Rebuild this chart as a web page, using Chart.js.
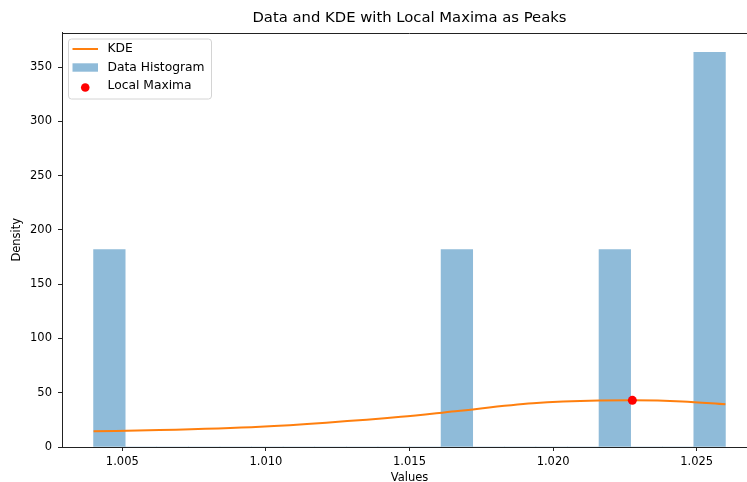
<!DOCTYPE html>
<html>
<head>
<meta charset="utf-8">
<script src="https://cdn.jsdelivr.net/npm/chart.js@4/dist/chart.umd.min.js"></script>
<style>
  html, body { margin: 0; padding: 0; background: #fff; overflow: hidden; }
  #wrap { width: 747px; height: 482px; overflow: hidden; position: relative; }
  canvas { display: block; }
</style>
</head>
<body>
<div id="wrap"><canvas id="c" width="800" height="490"></canvas></div>
<script>
// Histogram: 20 bins of width 0.0011 spanning 1.004 .. 1.026 (density-normalised)
const binCenters = [
  1.00455, 1.00565, 1.00675, 1.00785, 1.00895,
  1.01005, 1.01115, 1.01225, 1.01335, 1.01445,
  1.01555, 1.01665, 1.01775, 1.01885, 1.01995,
  1.02105, 1.02215, 1.02325, 1.02435, 1.02545
];
const binDensity = [
  181.8, 0, 0, 0, 0,
  0, 0, 0, 0, 0,
  0, 181.8, 0, 0, 0,
  0, 181.8, 0, 0, 363.6
];

// Kernel density estimate curve
const kdeX = [1.0040, 1.0063, 1.0098, 1.0121, 1.0147, 1.0166, 1.0193, 1.0216, 1.02276, 1.0245, 1.0260];
const kdeY = [14.4,   15.6,   18.7,   22.4,   27.8,   33.0,   40.3,   42.8,   43.0,    42.0,   39.3];

// Local maxima of the KDE
const peakX = [1.02276];
const peakY = [43.0];

// Axis ticks
const xTicks = [1.005, 1.010, 1.015, 1.020, 1.025];
const yTicks = [0, 50, 100, 150, 200, 250, 300, 350];

const TITLE = 'Data and KDE with Local Maxima as Peaks';
const FONT = 'DejaVu Sans';
Chart.defaults.font.family = FONT;
Chart.defaults.color = '#000';

const AXIS_COLOR = '#222';
const LABEL_SIZE = 11.5;
const LEGEND_SIZE = 12.3;

// Draws the title over the axes, the top spine and a legend inside the plot area
const frameAndLegend = {
  id: 'frameAndLegend',
  afterDraw(chart) {
    const { ctx, chartArea: a } = chart;
    const ds = chart.data.datasets;
    ctx.save();

    ctx.fillStyle = '#000';
    ctx.font = '14.8px "' + FONT + '"';
    ctx.textAlign = 'center';
    ctx.textBaseline = 'middle';
    ctx.fillText(TITLE, (a.left + a.right) / 2, 18);

    ctx.strokeStyle = AXIS_COLOR;
    ctx.lineWidth = 1;
    ctx.beginPath();
    ctx.moveTo(a.left, Math.round(a.top) + 0.5);
    ctx.lineTo(a.right, Math.round(a.top) + 0.5);
    ctx.stroke();

    const bx = a.left + 6.5, by = a.top + 6.5, bw = 143, bh = 60, r = 3;
    ctx.beginPath();
    ctx.moveTo(bx + r, by);
    ctx.arcTo(bx + bw, by, bx + bw, by + bh, r);
    ctx.arcTo(bx + bw, by + bh, bx, by + bh, r);
    ctx.arcTo(bx, by + bh, bx, by, r);
    ctx.arcTo(bx, by, bx + bw, by, r);
    ctx.closePath();
    ctx.fillStyle = 'rgba(255,255,255,0.8)';
    ctx.fill();
    ctx.strokeStyle = '#d4d4d4';
    ctx.stroke();

    const rows = [a.top + 16.5, a.top + 35, a.top + 53.5];
    const hx0 = a.left + 10.5, hx1 = a.left + 36;
    const tx = a.left + 45.5;

    // KDE line handle
    ctx.strokeStyle = ds[0].borderColor;
    ctx.lineWidth = ds[0].borderWidth;
    ctx.beginPath();
    ctx.moveTo(hx0, rows[0]);
    ctx.lineTo(hx1, rows[0]);
    ctx.stroke();

    // Histogram patch handle
    ctx.fillStyle = ds[1].backgroundColor;
    ctx.fillRect(hx0, rows[1] - 4.2, hx1 - hx0, 8.4);

    // Scatter marker handle
    ctx.fillStyle = ds[2].backgroundColor;
    ctx.beginPath();
    ctx.arc((hx0 + hx1) / 2, rows[2] + 1.5, 4.3, 0, Math.PI * 2);
    ctx.fill();

    ctx.fillStyle = '#000';
    ctx.font = LEGEND_SIZE + 'px "' + FONT + '"';
    ctx.textBaseline = 'middle';
    ctx.textAlign = 'left';
    for (let i = 0; i < 3; i++) {
      ctx.fillText(ds[i].label, tx, rows[i]);
    }
    ctx.restore();
  }
};

const tickGrid = {
  display: true,
  drawOnChartArea: false,
  drawTicks: true,
  tickLength: 4,
  tickColor: AXIS_COLOR,
  offset: false
};

new Chart(document.getElementById('c').getContext('2d'), {
  type: 'bar',
  data: {
    datasets: [
      {
        type: 'line',
        label: 'KDE',
        data: kdeX.map((x, i) => ({ x, y: kdeY[i] })),
        borderColor: '#ff7f0e',
        borderWidth: 2,
        pointRadius: 0,
        fill: false,
        cubicInterpolationMode: 'monotone',
        order: 2
      },
      {
        type: 'bar',
        label: 'Data Histogram',
        data: binCenters.map((x, i) => ({ x, y: binDensity[i] })),
        backgroundColor: 'rgba(31,119,180,0.5)',
        borderWidth: 0,
        barPercentage: 1,
        categoryPercentage: 1,
        order: 3
      },
      {
        type: 'scatter',
        label: 'Local Maxima',
        data: peakX.map((x, i) => ({ x, y: peakY[i] })),
        backgroundColor: 'red',
        borderWidth: 0,
        pointRadius: 4.5,
        order: 1
      }
    ]
  },
  options: {
    responsive: false,
    animation: false,
    devicePixelRatio: 1,
    layout: { padding: { top: 32.5, left: 0, right: 43, bottom: 0 } },
    plugins: {
      legend: { display: false },
      tooltip: { enabled: false },
      title: { display: false }
    },
    scales: {
      x: {
        type: 'linear',
        min: 1.0029,
        max: 1.0271,
        offset: false,
        afterBuildTicks: s => { s.ticks = xTicks.map(v => ({ value: v })); },
        afterFit: s => { s.height = 43; },
        grid: tickGrid,
        border: { display: true, color: AXIS_COLOR, width: 1 },
        ticks: {
          color: '#000',
          font: { size: LABEL_SIZE },
          padding: 4,
          maxRotation: 0,
          autoSkip: false,
          callback: v => Number(v).toFixed(3)
        },
        title: {
          display: true,
          text: 'Values',
          color: '#000',
          font: { size: LABEL_SIZE },
          padding: { top: 0, bottom: 5 }
        }
      },
      y: {
        type: 'linear',
        min: 0,
        max: 381.8,
        afterBuildTicks: s => { s.ticks = yTicks.map(v => ({ value: v })); },
        afterFit: s => { s.width = 62; },
        grid: tickGrid,
        border: { display: true, color: AXIS_COLOR, width: 1 },
        ticks: {
          color: '#000',
          font: { size: LABEL_SIZE },
          padding: 6,
          autoSkip: false,
          callback: v => String(v)
        },
        title: {
          display: true,
          text: 'Density',
          color: '#000',
          font: { size: LABEL_SIZE },
          padding: { top: 10, bottom: 0 }
        }
      }
    }
  },
  plugins: [frameAndLegend]
});
</script>
</body>
</html>
